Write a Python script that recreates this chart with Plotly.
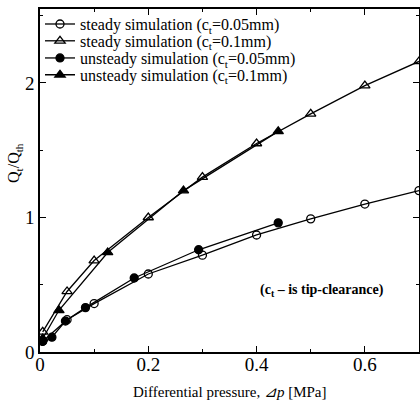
import plotly.graph_objects as go

# steady simulation, ct = 0.05 mm (open circles)
x_s05 = [0.005, 0.05, 0.1, 0.2, 0.3, 0.4, 0.5, 0.6, 0.7]
y_s05 = [0.08, 0.24, 0.36, 0.58, 0.72, 0.87, 0.99, 1.10, 1.20]
# steady simulation, ct = 0.1 mm (open triangles)
x_s10 = [0.005, 0.05, 0.1, 0.2, 0.3, 0.4, 0.5, 0.6, 0.7]
y_s10 = [0.15, 0.45, 0.68, 1.00, 1.30, 1.55, 1.77, 1.98, 2.16]
# unsteady simulation, ct = 0.05 mm (filled circles)
x_u05 = [0.005, 0.022, 0.047, 0.084, 0.174, 0.293, 0.44]
y_u05 = [0.08, 0.11, 0.23, 0.33, 0.55, 0.76, 0.96]
# unsteady simulation, ct = 0.1 mm (filled triangles)
x_u10 = [0.005, 0.035, 0.125, 0.265, 0.44]
y_u10 = [0.10, 0.31, 0.74, 1.20, 1.64]

names = [
    "steady simulation (c<sub>t</sub>=0.05mm)",
    "steady simulation (c<sub>t</sub>=0.1mm)",
    "unsteady simulation (c<sub>t</sub>=0.05mm)",
    "unsteady simulation (c<sub>t</sub>=0.1mm)",
]
x_ticks = [0, 0.2, 0.4, 0.6]
x_tick_labels = ["0", "0.2", "0.4", "0.6"]
y_ticks = [0, 1, 2]
y_tick_labels = ["0", "1", "2"]

FONT = "Liberation Serif, Times New Roman, serif"

fig = go.Figure()
specs = [
    (x_s05, y_s05, "circle-open", 8, names[0], "legend"),
    (x_s10, y_s10, "triangle-up-open", 9, names[1], "legend2"),
    (x_u05, y_u05, "circle", 8, names[2], "legend3"),
    (x_u10, y_u10, "triangle-up", 9, names[3], "legend4"),
]
for xs, ys, sym, sz, nm, lg in specs:
    fig.add_trace(go.Scatter(
        x=xs, y=ys, mode="lines+markers", name=nm, legend=lg,
        line=dict(color="black", width=1.3),
        marker=dict(symbol=sym, size=sz, color="black",
                    line=dict(color="black", width=1.3)),
    ))

fig.add_annotation(
    x=0.52, y=0.46, xref="x", yref="y", showarrow=False,
    text="<b>(c<sub>t</sub> – is tip-clearance)</b>",
    font=dict(family=FONT, size=14, color="black"),
)
# axis titles
fig.add_annotation(
    x=0.5, y=-0.118, xref="paper", yref="paper", showarrow=False,
    xanchor="center", yanchor="middle",
    text="Differential pressure, <i>⊿p</i> [MPa]",
    font=dict(family=FONT, size=15, color="black"),
)
fig.add_annotation(
    x=-0.067, y=0.55, xref="paper", yref="paper", showarrow=False,
    xanchor="center", yanchor="middle", textangle=-90,
    text="Q<sub>t</sub>/Q<sub>th</sub>",
    font=dict(family=FONT, size=16, color="black"),
)

axis_common = dict(
    showgrid=False, zeroline=False, showline=True, linecolor="black",
    linewidth=1.5, mirror="allticks", ticks="inside", ticklen=6,
    tickcolor="black", tickwidth=1, automargin=False,
    tickfont=dict(family=FONT, size=19, color="black"),
)


def leg(ypos):
    return dict(x=0.0, y=ypos, xanchor="left", yanchor="middle",
                bgcolor="rgba(0,0,0,0)", borderwidth=0,
                font=dict(family=FONT, size=16, color="black"),
                tracegroupgap=0, itemwidth=30)


fig.update_layout(
    width=420, height=404,
    margin=dict(l=40, r=1, t=9, b=52),
    paper_bgcolor="white", plot_bgcolor="white",
    font=dict(family=FONT, color="black"),
    showlegend=True,
    legend=leg(0.956),
    legend2=leg(0.907),
    legend3=leg(0.857),
    legend4=leg(0.808),
    xaxis=dict(range=[0, 0.7], tickvals=x_ticks, ticktext=x_tick_labels,
               ticklabelstandoff=-6,
               minor=dict(dtick=0.1, ticks="inside", ticklen=3, tickcolor="black"),
               **axis_common),
    yaxis=dict(range=[0, 2.55], tickvals=y_ticks, ticktext=y_tick_labels,
               minor=dict(dtick=0.5, ticks="inside", ticklen=3, tickcolor="black"),
               **axis_common),
)

fig.write_html("out.html", config={"displayModeBar": False},
               post_script="document.body.style.margin='0';document.body.style.overflow='hidden';")
